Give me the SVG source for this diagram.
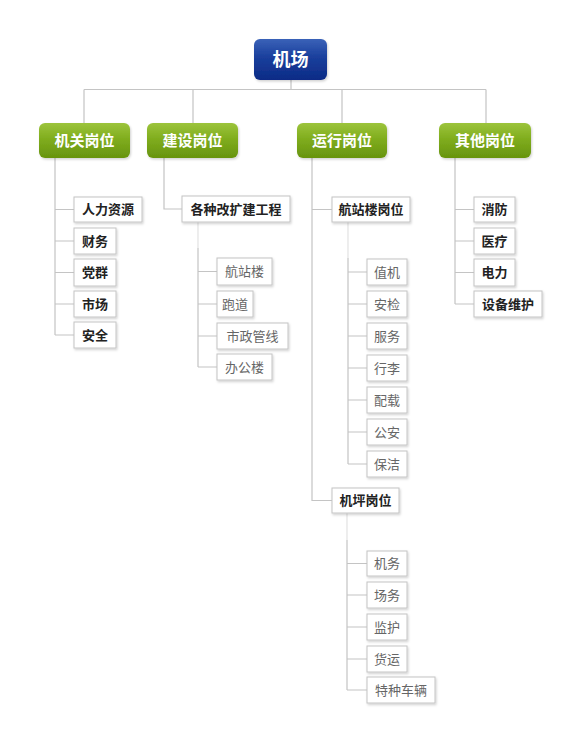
<svg xmlns="http://www.w3.org/2000/svg" width="581" height="741" viewBox="0 0 581 741">
<defs>
<linearGradient id="gBlue" x1="0" y1="0" x2="0" y2="1">
<stop offset="0" stop-color="#3a62b8"/>
<stop offset="0.45" stop-color="#1a3f9c"/>
<stop offset="1" stop-color="#0c2b86"/>
</linearGradient>
<linearGradient id="gGreen" x1="0" y1="0" x2="0" y2="1">
<stop offset="0" stop-color="#9cc43c"/>
<stop offset="0.45" stop-color="#80ad1e"/>
<stop offset="1" stop-color="#67940f"/>
</linearGradient>
<filter id="sh" x="-10%" y="-10%" width="130%" height="140%">
<feDropShadow dx="1" dy="1.5" stdDeviation="1" flood-color="#000" flood-opacity="0.18"/>
</filter>
</defs>
<style>
.root{fill:url(#gBlue);filter:url(#sh)}
.l1{fill:url(#gGreen);filter:url(#sh)}
.bx{fill:#fff;stroke:#c4c4c4;stroke-width:1;filter:url(#sh)}
.t{font-family:"Liberation Serif","Noto Sans CJK SC",serif;text-anchor:middle;dominant-baseline:central}
.tw{fill:#fff;font-weight:bold;font-size:15px}
.tr{fill:#fff;font-weight:bold;font-size:18px}
.tb{fill:#222;font-weight:bold;font-size:13px}
.tn{fill:#666;font-size:13px}
.c{stroke:#c4c4c4;stroke-width:1.2;fill:none}
.cl{stroke:#e2e2e2;stroke-width:1.2;fill:none}
</style>
<rect width="581" height="741" fill="#fff"/>
<g id="connectors">
<path class="c" d="M291 80V89.5M84 89.5H486M84 89.5V123M193 89.5V123M342 89.5V123M486 89.5V123"/>
<path class="c" d="M55 158V335M55 209.5H74M55 241H74M55 272.5H74M55 304H74M55 335H74"/>
<path class="c" d="M164 158V209H182"/>
<path class="cl" d="M198 222V248"/>
<path class="c" d="M198 248V367M198 271.5H217M198 304H217M198 336H217M198 367H217"/>
<path class="c" d="M312 158V500.5H332M312 209.5H332"/>
<path class="cl" d="M348 222V258"/>
<path class="c" d="M348 258V464M348 272H367M348 304H367M348 336H367M348 368H367M348 400H367M348 432H367M348 464H367"/>
<path class="cl" d="M347 513V540"/>
<path class="c" d="M347 540V690M347 563.5H367M347 595H367M347 627H367M347 659H367M347 690H367"/>
<path class="c" d="M455 158V304M455 209.5H474M455 241H474M455 272.5H474M455 304H474"/>
</g>
<g id="root"><rect class="root" x="254" y="39" width="73" height="41" rx="6"/><text class="t tr" x="290.5" y="59.5">机场</text></g>
<g id="n-jiguan"><rect class="l1" x="39" y="123" width="91" height="35" rx="6"/><text class="t tw" x="84.5" y="140.5">机关岗位</text></g>
<g id="n-jianshe"><rect class="l1" x="147" y="123" width="91" height="35" rx="6"/><text class="t tw" x="192.5" y="140.5">建设岗位</text></g>
<g id="n-yunxing"><rect class="l1" x="297" y="123" width="90" height="35" rx="6"/><text class="t tw" x="342" y="140.5">运行岗位</text></g>
<g id="n-qita"><rect class="l1" x="439" y="123" width="92" height="35" rx="6"/><text class="t tw" x="485" y="140.5">其他岗位</text></g>

<g id="n-renli"><rect class="bx" x="74" y="197" width="68" height="25"/><text class="t tb" x="108" y="209.5">人力资源</text></g>
<g id="n-caiwu"><rect class="bx" x="74" y="228" width="42" height="26"/><text class="t tb" x="95" y="241">财务</text></g>
<g id="n-dangqun"><rect class="bx" x="74" y="259" width="42" height="27"/><text class="t tb" x="95" y="272.5">党群</text></g>
<g id="n-shichang"><rect class="bx" x="74" y="291" width="42" height="26"/><text class="t tb" x="95" y="304">市场</text></g>
<g id="n-anquan"><rect class="bx" x="74" y="322" width="42" height="26"/><text class="t tb" x="95" y="335">安全</text></g>

<g id="n-gezhong"><rect class="bx" x="182" y="196" width="108" height="26"/><text class="t tb" x="236" y="209">各种改扩建工程</text></g>
<g id="n-hangzhanlou"><rect class="bx" x="217" y="258" width="55" height="27"/><text class="t tn" x="244.5" y="271.5">航站楼</text></g>
<g id="n-paodao"><rect class="bx" x="217" y="291" width="36" height="26"/><text class="t tn" x="235" y="304">跑道</text></g>
<g id="n-shizheng"><rect class="bx" x="217" y="323" width="71" height="26"/><text class="t tn" x="252.5" y="336">市政管线</text></g>
<g id="n-bangong"><rect class="bx" x="217" y="354" width="55" height="26"/><text class="t tn" x="244.5" y="367">办公楼</text></g>

<g id="n-hzlgw"><rect class="bx" x="332" y="197" width="78" height="25"/><text class="t tb" x="371" y="209.5">航站楼岗位</text></g>
<g id="n-zhiji"><rect class="bx" x="367" y="259" width="40" height="26"/><text class="t tn" x="387" y="272">值机</text></g>
<g id="n-anjian"><rect class="bx" x="367" y="291" width="40" height="26"/><text class="t tn" x="387" y="304">安检</text></g>
<g id="n-fuwu"><rect class="bx" x="367" y="323" width="40" height="26"/><text class="t tn" x="387" y="336">服务</text></g>
<g id="n-xingli"><rect class="bx" x="367" y="355" width="40" height="26"/><text class="t tn" x="387" y="368">行李</text></g>
<g id="n-peizai"><rect class="bx" x="367" y="387" width="40" height="26"/><text class="t tn" x="387" y="400">配载</text></g>
<g id="n-gongan"><rect class="bx" x="367" y="419" width="40" height="26"/><text class="t tn" x="387" y="432">公安</text></g>
<g id="n-baojie"><rect class="bx" x="367" y="451" width="40" height="26"/><text class="t tn" x="387" y="464">保洁</text></g>

<g id="n-jipinggw"><rect class="bx" x="332" y="488" width="67" height="25"/><text class="t tb" x="365.5" y="500.5">机坪岗位</text></g>
<g id="n-jiwu"><rect class="bx" x="367" y="551" width="40" height="25"/><text class="t tn" x="387" y="563.5">机务</text></g>
<g id="n-changwu"><rect class="bx" x="367" y="582" width="40" height="26"/><text class="t tn" x="387" y="595">场务</text></g>
<g id="n-jianhu"><rect class="bx" x="367" y="614" width="40" height="26"/><text class="t tn" x="387" y="627">监护</text></g>
<g id="n-huoyun"><rect class="bx" x="367" y="646" width="40" height="26"/><text class="t tn" x="387" y="659">货运</text></g>
<g id="n-tezhong"><rect class="bx" x="367" y="677" width="68" height="26"/><text class="t tn" x="401" y="690">特种车辆</text></g>

<g id="n-xiaofang"><rect class="bx" x="474" y="197" width="41" height="25"/><text class="t tb" x="494.5" y="209.5">消防</text></g>
<g id="n-yiliao"><rect class="bx" x="474" y="228" width="41" height="26"/><text class="t tb" x="494.5" y="241">医疗</text></g>
<g id="n-dianli"><rect class="bx" x="474" y="259" width="41" height="27"/><text class="t tb" x="494.5" y="272.5">电力</text></g>
<g id="n-shebei"><rect class="bx" x="474" y="291" width="68" height="26"/><text class="t tb" x="508" y="304">设备维护</text></g>
</svg>
